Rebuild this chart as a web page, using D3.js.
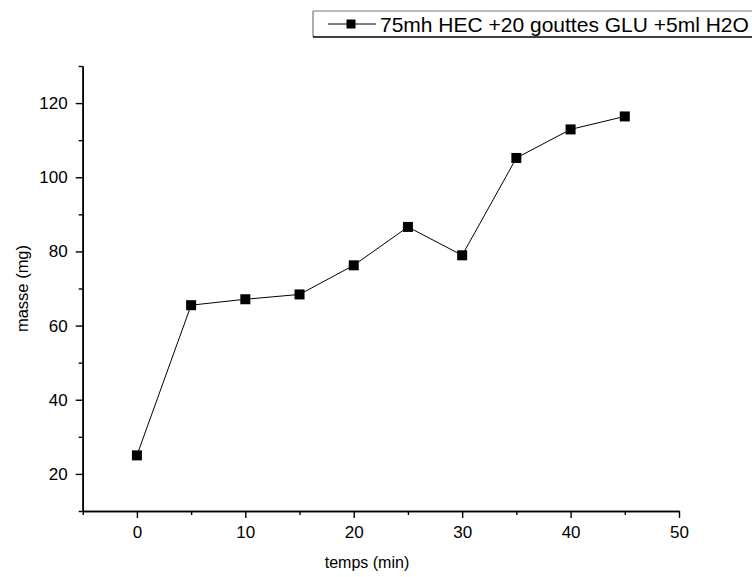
<!DOCTYPE html>
<html>
<head>
<meta charset="utf-8">
<script src="https://cdn.jsdelivr.net/npm/d3@7"></script>
<style>
  html, body { margin: 0; padding: 0; background: #fff; }
  svg { display: block; font-family: "Liberation Sans", Arial, sans-serif; }
</style>
</head>
<body>
<svg id="chart" width="752" height="577"></svg>
<script>
const times = [0, 5, 10, 15, 20, 25, 30, 35, 40, 45];
const masses = [25.0, 65.5, 67.1, 68.4, 76.25, 86.6, 78.95, 105.2, 112.9, 116.4];
const seriesName = "75mh HEC +20 gouttes GLU +5ml H2O";
const xMajorTicks = [0, 10, 20, 30, 40, 50];
const xMinorTicks = [-5, 5, 15, 25, 35, 45];
const yMajorTicks = [20, 40, 60, 80, 100, 120];
const yMinorTicks = [10, 30, 50, 70, 90, 110, 130];
const xTitle = "temps (min)";
const yTitle = "masse (mg)";

const svg = d3.select("#chart");
const x = d3.scaleLinear().domain([-5, 50]).range([82.7, 679]);
const y = d3.scaleLinear().domain([10, 130]).range([511, 66]);

// X axis
const gx = svg.append("g").attr("transform", `translate(0,${y(10)})`);
gx.call(d3.axisBottom(x).tickValues(xMajorTicks).tickSize(7).tickSizeOuter(0).tickPadding(8).tickFormat(d3.format("d")));
gx.append("g").call(d3.axisBottom(x).tickValues(xMinorTicks).tickSize(4).tickSizeOuter(0).tickFormat(""));
// Y axis
const gy = svg.append("g").attr("transform", `translate(${x(-5)},0)`);
gy.call(d3.axisLeft(y).tickValues(yMajorTicks).tickSize(7).tickSizeOuter(0).tickPadding(8).tickFormat(d3.format("d")));
gy.append("g").call(d3.axisLeft(y).tickValues(yMinorTicks).tickSize(4).tickSizeOuter(0).tickFormat(""));

svg.selectAll(".domain").attr("stroke", "#000").attr("stroke-width", 1.6);
svg.selectAll(".tick line").attr("stroke", "#000").attr("stroke-width", 1.4);
svg.selectAll(".tick text").attr("fill", "#000").style("font-size", "17px").style("font-family", "Liberation Sans, Arial, sans-serif");

// Titles
svg.append("text").attr("x", 367).attr("y", 568).attr("text-anchor", "middle")
  .style("font-size", "16px").text(xTitle);
svg.append("text").attr("transform", `translate(28,${(y(10) + y(130)) / 2}) rotate(-90)`)
  .attr("text-anchor", "middle").style("font-size", "16.5px").text(yTitle);

// Line
const data = times.map((t, i) => ({ t, m: masses[i] }));
svg.append("path").datum(data)
  .attr("fill", "none").attr("stroke", "#000").attr("stroke-width", 1)
  .attr("d", d3.line().x(d => x(d.t)).y(d => y(d.m)));
svg.selectAll("rect.pt").data(data).enter().append("rect").attr("class", "pt")
  .attr("x", d => x(d.t) - 5).attr("y", d => y(d.m) - 5)
  .attr("width", 10).attr("height", 10).attr("fill", "#000");

// Legend
const lg = svg.append("g");
lg.append("line").attr("x1", 313).attr("x2", 313).attr("y1", 11).attr("y2", 37).attr("stroke", "#777").attr("stroke-width", 1.2);
lg.append("line").attr("x1", 313).attr("x2", 752).attr("y1", 11).attr("y2", 11).attr("stroke", "#777").attr("stroke-width", 1.2);
lg.append("line").attr("x1", 313).attr("x2", 752).attr("y1", 37).attr("y2", 37).attr("stroke", "#000").attr("stroke-width", 1.4);
lg.append("line").attr("x1", 328).attr("x2", 376).attr("y1", 24).attr("y2", 24).attr("stroke", "#000").attr("stroke-width", 1);
lg.append("rect").attr("x", 346.5).attr("y", 19.5).attr("width", 9).attr("height", 9).attr("fill", "#000");
lg.append("text").attr("x", 380).attr("y", 32).style("font-size", "21px").attr("fill", "#000").text(seriesName);
</script>
</body>
</html>
